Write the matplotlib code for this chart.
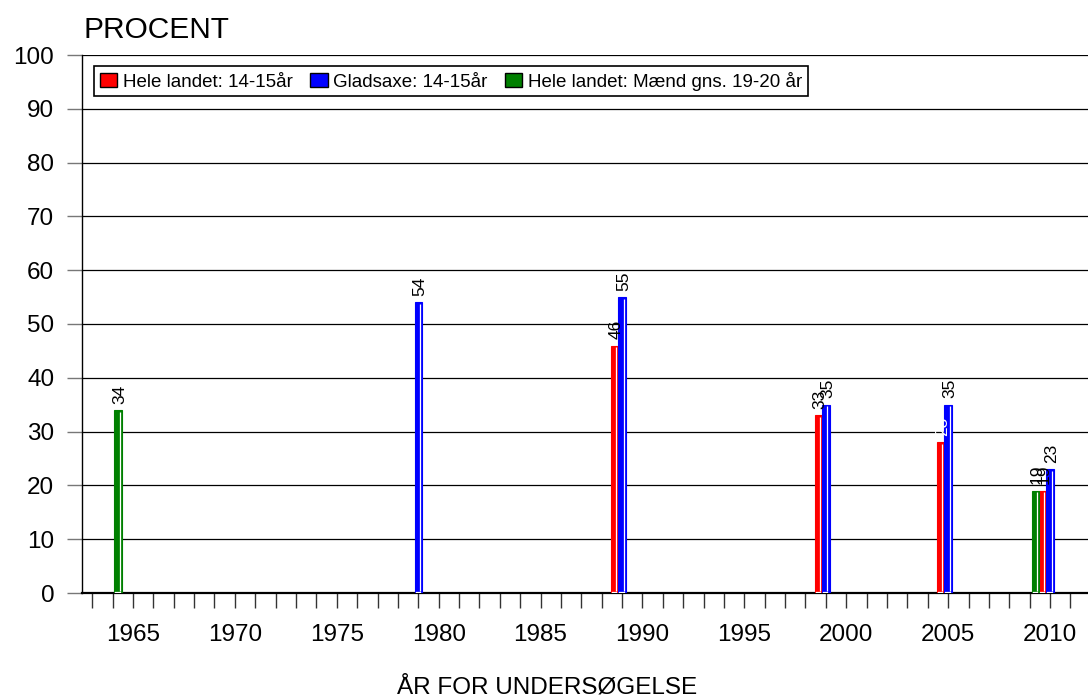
import matplotlib.pyplot as plt
from matplotlib.patches import Patch
from matplotlib.ticker import MultipleLocator

plt.rcParams['font.family'] = ['Liberation Sans', 'DejaVu Sans']

# data
years = [1965, 1979, 1989, 1999, 2005, 2010]
hele_landet = [None, None, 46, 33, 28, 19]      # Hele landet: 14-15år (red)
gladsaxe = [None, 54, 55, 35, 35, 23]           # Gladsaxe: 14-15år (blue)
maend = [34, None, None, None, None, 19]        # Hele landet: Mænd gns. 19-20 år (green)

series = [
    ('Hele landet: 14-15år', hele_landet, '#ff0000', -1),
    ('Gladsaxe: 14-15år', gladsaxe, '#0000ff', 0),
    ('Hele landet: Mænd gns. 19-20 år', maend, '#008000', -2),
]
label_colors = {('Hele landet: 14-15år', 2005): 'white'}

W, H = 1088, 698
fig = plt.figure(figsize=(W / 100, H / 100), dpi=100)
ax = fig.add_axes([82 / W, 105 / H, 1006 / W, 538 / H])
x0, x1 = 1962.5, 1962.5 + 1006 / 20.38
ax.set_xlim(x0, x1)
ax.set_ylim(0, 100)
px = (x1 - x0) / 1006.0  # one pixel in data units
slot = 7.4 * px

for name, vals, col, off in series:
    for yr, v in zip(years, vals):
        if v is None:
            continue
        left = yr + (off - 0.5) * slot
        ax.bar(left, v, width=slot, align='edge', color=col, edgecolor=col,
               linewidth=0.8, zorder=3)
        # white bevel line inside the bar
        ax.plot([left + slot - 2.2 * px] * 2, [0.3, v - 0.3], color='white',
                lw=0.9, zorder=4, solid_capstyle='butt')
        ax.plot([left + 1 * px, left + slot - 2.2 * px], [0.25, 0.25],
                color='white', lw=0.9, zorder=4)
        tc = label_colors.get((name, yr), 'black')
        ax.text(yr + off * slot + 1.5 * px, v + 1.2, str(v), rotation=90,
                ha='center', va='bottom', fontsize=12.5, color=tc, zorder=5)

# axes styling
ax.yaxis.set_major_locator(MultipleLocator(10))
ax.grid(axis='y', color='black', lw=0.9, zorder=1)
ax.set_axisbelow(True)
for s in ['top', 'right']:
    ax.spines[s].set_visible(False)
ax.spines['left'].set_color('black')
ax.spines['bottom'].set_color('black')
ax.spines['bottom'].set_linewidth(1.6)
ax.spines['left'].set_linewidth(1.0)

ax.set_xticks(range(1965, 2011, 5))
ax.set_xticks(range(1963, 2012), minor=True)
ax.tick_params(axis='x', which='both', length=11, width=1, color='#333333',
               direction='out', pad=11, labelsize=17.5)
ax.tick_params(axis='y', length=11, width=1, color='#777777', pad=9,
               labelsize=17.5)

fig.text(83 / W, 1 - 38 / H, 'PROCENT', fontsize=21.5, ha='left', va='baseline')
fig.text(547 / W, 1 - 694 / H, 'ÅR FOR UNDERSØGELSE', fontsize=17.5,
         ha='center', va='baseline')

handles = [Patch(facecolor=c, edgecolor='black', linewidth=1) for _, _, c, _ in series]
leg = ax.legend(handles, [n for n, _, _, _ in series], loc='upper left',
                bbox_to_anchor=((94 - 82) / 1006, (593 - 66) / 538),
                borderaxespad=0, ncol=3, fontsize=13.5, frameon=True,
                fancybox=False, edgecolor='black', framealpha=1,
                handlelength=0.95, handleheight=0.75, handletextpad=0.3,
                columnspacing=0.9, borderpad=0.3)
leg.get_frame().set_linewidth(1.2)

fig.savefig('out.png', dpi=100)
